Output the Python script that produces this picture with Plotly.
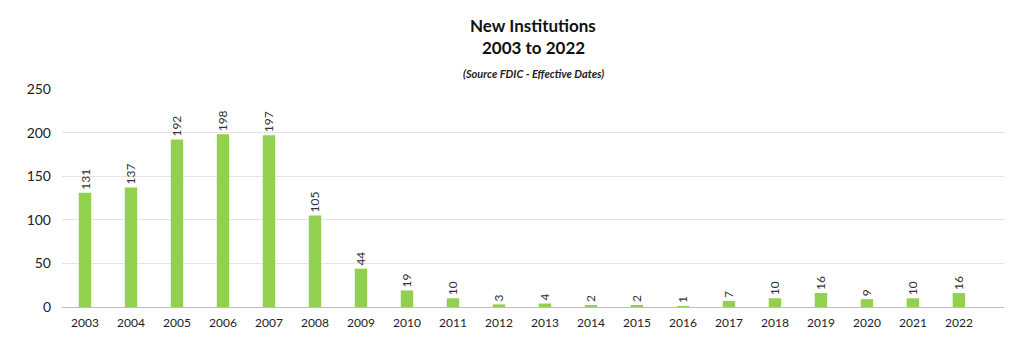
import plotly.graph_objects as go

years = [str(y) for y in range(2003, 2023)]
counts = [131, 137, 192, 198, 197, 105, 44, 19, 10, 3, 4, 2, 2, 1, 7, 10, 16, 9, 10, 16]
y_ticks = [0, 50, 100, 150, 200, 250]

fig = go.Figure(go.Bar(
    x=years, y=counts,
    marker=dict(color="#92D050", line=dict(width=0)),
    text=[str(c) for c in counts],
    textposition="outside",
    textangle=-90,
    constraintext="none",
    textfont=dict(family="Lato", size=12, color="#333333"),
    cliponaxis=False,
))

fig.update_layout(
    width=1024, height=354,
    margin=dict(l=62, r=20, t=89, b=47),
    paper_bgcolor="white", plot_bgcolor="white",
    bargap=0.73,
    showlegend=False,
    font=dict(family="Lato", color="#333333"),
)

H = 354 - 89 - 47
def ypix(py):
    return (354 - 47 - py) / H

fig.add_annotation(text="<b>New Institutions</b>", x=0.5, y=ypix(25), xref="paper", yref="paper",
                   showarrow=False, font=dict(family="Lato", size=17, color="#111111"), yanchor="middle")
fig.add_annotation(text="<b>2003 to 2022</b>", x=0.5, y=ypix(47), xref="paper", yref="paper",
                   showarrow=False, font=dict(family="Lato", size=17, color="#111111"), yanchor="middle")
fig.add_annotation(text="<b><i>(Source FDIC - Effective Dates)</i></b>", x=0.5, y=ypix(73), xref="paper", yref="paper",
                   showarrow=False, font=dict(family="Lato", size=11, color="#222222"), yanchor="middle")

fig.update_yaxes(range=[0, 250], tickvals=y_ticks, showgrid=True, gridcolor="#e4e4e4", gridwidth=1,
                 zeroline=False, tickfont=dict(family="Lato", size=14, color="#222222"), ticks="",
                 ticklabelstandoff=10)
fig.update_xaxes(range=[-0.5, 19.98], showline=True, linecolor="#bfbfbf", linewidth=1,
                 tickfont=dict(family="Lato", size=12, color="#222222"), ticks="", ticklabelstandoff=5)

fig.write_html("out.html")
